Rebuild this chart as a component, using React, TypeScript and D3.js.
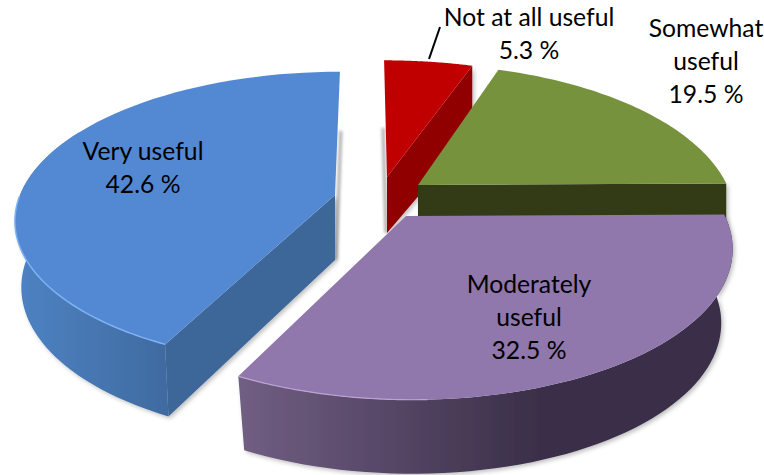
import React from "react";
import * as d3 from "d3";

// Data, in pie order clockwise from twelve o'clock
const categories = ["Not at all useful", "Somewhat useful", "Moderately useful", "Very useful"];
const values = [5.3, 19.5, 32.5, 42.6];

const topColors = ["#c00000", "#76923c", "#9077ac", "#5389d3"];
const cutColors = ["#900000", "#303a17", "#3a2f48", "#3d6699"];

type Geo = {
  ax: number; ay: number; S: number; T: number; k: number; shear: number;
  depth: number; shrinkX: number; shrinkY: number;
};
// Per-slice perspective placement (exploded slices)
const geos: Geo[] = [
  { ax: 387, ay: 177, S: 320, T: 140, k: 0.2, shear: 0.025, depth: 56, shrinkX: 1, shrinkY: 0.9 },
  { ax: 418, ay: 185, S: 309, T: 145, k: 0.2, shear: 0.04, depth: 50, shrinkX: 1, shrinkY: 1 },
  { ax: 406, ay: 216, S: 319, T: 147, k: 0.2, shear: 0.035, depth: 74, shrinkX: 0.965, shrinkY: 1 },
  { ax: 335, ay: 195, S: 315, T: 143, k: 0.16, shear: -0.04, depth: 65, shrinkX: 0.98, shrinkY: 1.047 },
];

type Label = { lines: string[]; x: number; y: number };
const labels: Label[] = [
  { lines: ["Not at all useful", "5.3 %"], x: 529, y: 26 },
  { lines: ["Somewhat", "useful", "19.5 %"], x: 706, y: 37 },
  { lines: ["Moderately", "useful", "32.5 %"], x: 529, y: 293 },
  { lines: ["Very useful", "42.6 %"], x: 143, y: 160 },
];

const project = (g: Geo, theta: number, bottom = false): [number, number] => {
  const u = Math.sin(theta);
  const v = -Math.cos(theta);
  const w = 1 - g.k * v;
  const Y = (g.T * v) / w;
  const X = (g.S * u) / w + g.shear * Y;
  return bottom ? [g.ax + X * g.shrinkX, g.ay + Y * g.shrinkY + g.depth] : [g.ax + X, g.ay + Y];
};

const arcPoints = (g: Geo, a0: number, a1: number, bottom = false) =>
  d3.range(0, 61).map((i) => project(g, a0 + ((a1 - a0) * i) / 60, bottom));

const line = d3.line<[number, number]>();

export default function App() {
  const arcs = d3.pie<number>().sort(null).value((d) => d)(values);
  const order = [3, 0, 1, 2];
  return (
    <svg
      width={764}
      height={475}
      style={{ position: "absolute", left: 0, top: 0, display: "block", background: "#fff" }}
      fontFamily="Lato, Carlito, sans-serif"
    >
      <defs>
        <linearGradient id="wall3" gradientUnits="userSpaceOnUse" x1={20} x2={170} y1={0} y2={0}>
          <stop offset="0" stopColor="#4d82c2" />
          <stop offset="1" stopColor="#3f6a9f" />
        </linearGradient>
        <linearGradient id="wall2" gradientUnits="userSpaceOnUse" x1={240} x2={540} y1={0} y2={0}>
          <stop offset="0" stopColor="#715e83" />
          <stop offset="1" stopColor="#3a2f48" />
        </linearGradient>
        <filter id="soft" x="-10%" y="-10%" width="120%" height="120%">
          <feDropShadow dx={2} dy={2} stdDeviation={2} floodColor="#000" floodOpacity={0.25} />
        </filter>
        <filter id="blurLine" x="-400%" y="-10%" width="900%" height="120%">
          <feGaussianBlur stdDeviation={1.5} />
        </filter>
      </defs>
      {order.map((i) => {
        const a = arcs[i];
        const g = geos[i];
        const wallEnd = Math.min(a.endAngle, a.startAngle + 1.6);
        const top = arcPoints(g, a.startAngle, a.endAngle);
        const wallTop = arcPoints(g, a.startAngle, i === 3 ? wallEnd : a.endAngle);
        const wallBot = arcPoints(g, a.startAngle, i === 3 ? wallEnd : a.endAngle, true);
        const apexPt: [number, number] = [g.ax, g.ay];
        const apexBot: [number, number] = [g.ax, g.ay + g.depth];
        // the cut wall that faces the viewer
        const cutAngle = i === 3 ? a.startAngle : a.endAngle;
        const cut: [number, number][] = [apexPt, project(g, cutAngle), project(g, cutAngle, true), apexBot];
        const showWall = i === 2 || i === 3;
        const showCut = i !== 2;
        const showBackShadow = i === 0 || i === 3;
        return (
          <g key={categories[i]}>
            {showBackShadow && (
              <path
                d={line([project(g, i === 3 ? a.endAngle : a.startAngle, true), apexBot]) ?? ""}
                transform={i === 3 ? "translate(1,0)" : "translate(-1,0)"}
                stroke="#aaa"
                strokeWidth={3}
                fill="none"
                filter="url(#blurLine)"
              />
            )}
            <g filter="url(#soft)">
              {showWall && (
                <path d={line([...wallTop, ...wallBot.slice().reverse()]) + "Z"} fill={`url(#wall${i})`} />
              )}
              {showCut && <path d={line(cut) + "Z"} fill={cutColors[i]} />}
            </g>
            <path d={line([apexPt, ...top]) + "Z"} fill={topColors[i]} />
            {i === 3 && (
              <path
                d={line(arcPoints(g, a.startAngle, a.startAngle + 1.1)) ?? ""}
                fill="none"
                stroke="#7fb2f2"
                strokeWidth={1.5}
              />
            )}
            {i === 2 && (
              <path
                d={line(arcPoints(g, a.endAngle - 0.5, a.endAngle)) ?? ""}
                fill="none"
                stroke="#b9a5d4"
                strokeWidth={1.2}
              />
            )}
          </g>
        );
      })}
      <line x1={440} y1={27} x2={429} y2={59} stroke="#000" strokeWidth={2} />
      {labels.map((l) => (
        <text key={l.lines[0]} textAnchor="middle" fontSize={24.7} fill="#000">
          {l.lines.map((t, j) => (
            <tspan key={j} x={l.x} y={l.y + j * 33}>
              {t}
            </tspan>
          ))}
        </text>
      ))}
    </svg>
  );
}
